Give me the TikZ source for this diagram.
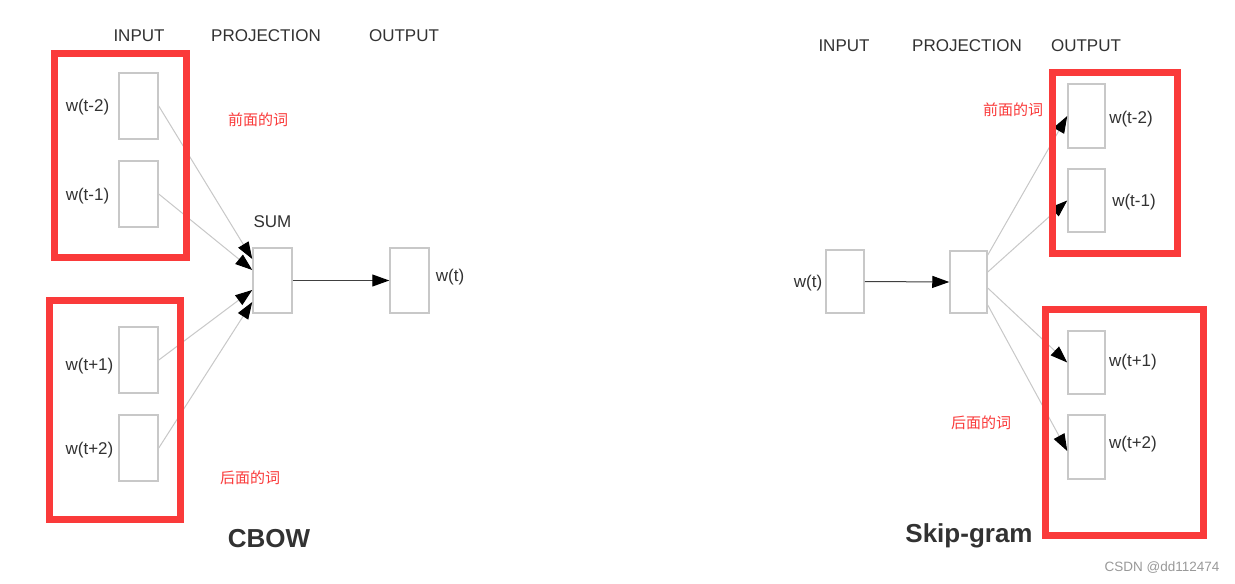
\documentclass[tikz,border=0pt]{standalone}
\usepackage{fontspec}
\setmainfont{Liberation Sans}
\newfontfamily\cjk{Noto Sans CJK SC}
\usetikzlibrary{arrows.meta}
\definecolor{redbox}{RGB}{250,58,58}
\definecolor{txt}{RGB}{50,50,50}
\definecolor{boxgray}{RGB}{200,200,200}
\definecolor{linegray}{RGB}{200,200,200}
\tikzset{
  wbox/.style={draw=boxgray, line width=1.5pt, minimum width=39pt, minimum height=66pt, inner sep=0pt},
  lbl/.style={text=txt, font=\fontsize{17}{17}\selectfont, inner sep=0pt},
  head/.style={text=txt, font=\fontsize{17}{17}\selectfont, inner sep=0pt},
  cn/.style={text=redbox, font=\cjk\fontsize{15}{15}\selectfont, inner sep=0pt},
  title/.style={text=txt, font=\bfseries\fontsize{26}{26}\selectfont, inner sep=0pt},
  conn/.style={draw=linegray, line width=1pt, -{Triangle[length=17pt,width=12pt,color=black,fill=black]}},
  darkconn/.style={draw=black!75, line width=1pt, -{Triangle[length=17pt,width=12pt,color=black,fill=black]}},
  redframe/.style={draw=redbox, line width=7pt}
}
\begin{document}
\begin{tikzpicture}[x=1pt,y=-1pt]
\useasboundingbox[fill=white] (0,0) rectangle (1235,584);

% ---------- CBOW ----------
\node[head] (c-input) at (139,36) {INPUT};
\node[head] (c-proj) at (266,36) {PROJECTION};
\node[head] (c-output) at (404,36) {OUTPUT};

\node[wbox] (i1) at (138.5,106) {};
\node[wbox] (i2) at (138.5,194) {};
\node[wbox] (i3) at (138.5,360) {};
\node[wbox] (i4) at (138.5,448) {};
\node[wbox, minimum height=65pt] (sum) at (272.5,280.5) {};
\node[wbox, minimum height=65pt] (cout) at (409.5,280.5) {};

\node[lbl] (li1) at (87.5,107) {w(t-2)};
\node[lbl] (li2) at (87.5,196) {w(t-1)};
\node[lbl] (li3) at (89.5,366) {w(t+1)};
\node[lbl] (li4) at (89.5,450) {w(t+2)};
\node[lbl] (lsum) at (272.5,222) {SUM};
\node[lbl] (lcout) at (450,277) {w(t)};

\draw[conn] (i1.east) -- ([yshift=21.5pt]sum.west);
\draw[conn] (i2.east) -- ([yshift=10.5pt]sum.west);
\draw[conn] (i3.east) -- ([yshift=-9.5pt]sum.west);
\draw[conn] (i4.east) -- ([yshift=-21.5pt]sum.west);
\draw[darkconn] (sum.east) -- (cout.west);

\node[cn] (c-prev) at (258,120) {前面的词};
\node[cn] (c-next) at (250,478) {后面的词};
\node[title] (cbow) at (269,539) {CBOW};

\draw[redframe] (54.5,53.5) rectangle (186.5,257.5);
\draw[redframe] (49.5,300.5) rectangle (180.5,519.5);

% ---------- Skip-gram ----------
\node[head] (s-input) at (844,46) {INPUT};
\node[head] (s-proj) at (967,46) {PROJECTION};
\node[head] (s-output) at (1086,46) {OUTPUT};

\node[wbox, minimum width=38pt, minimum height=63pt] (sin) at (845,281.5) {};
\node[wbox, minimum width=37pt, minimum height=62pt] (sproj) at (968.5,282) {};
\node[wbox, minimum width=37pt, minimum height=64pt] (o1) at (1086.5,116) {};
\node[wbox, minimum width=37pt, minimum height=63pt] (o2) at (1086.5,200.5) {};
\node[wbox, minimum width=37pt, minimum height=63pt] (o3) at (1086.5,362.5) {};
\node[wbox, minimum width=37pt, minimum height=64pt] (o4) at (1086.5,447) {};

\node[lbl] (lsin) at (808,283) {w(t)};
\node[lbl] (lo1) at (1131,119) {w(t-2)};
\node[lbl] (lo2) at (1134,202) {w(t-1)};
\node[lbl] (lo3) at (1133,362) {w(t+1)};
\node[lbl] (lo4) at (1133,444) {w(t+2)};

\draw[darkconn] (sin.east) -- (sproj.west);
\draw[conn] ([yshift=27pt]sproj.east) -- (o1.west);
\draw[conn] ([yshift=10pt]sproj.east) -- (o2.west);
\draw[conn] ([yshift=-6pt]sproj.east) -- (o3.west);
\draw[conn] ([yshift=-23pt]sproj.east) -- ([yshift=-4pt]o4.west);

\node[cn] (s-prev) at (1013,110) {前面的词};
\node[cn] (s-next) at (981,423) {后面的词};
\node[title] (skip) at (969,536) {Skip-gram};

\draw[redframe] (1052.5,72.5) rectangle (1177.5,253.5);
\draw[redframe] (1045.5,309.5) rectangle (1203.5,535.5);

\node[text=black!40, font=\fontsize{13.5}{13.5}\selectfont, inner sep=0pt] (csdn) at (1162,568) {CSDN @dd112474};
\end{tikzpicture}
\end{document}
